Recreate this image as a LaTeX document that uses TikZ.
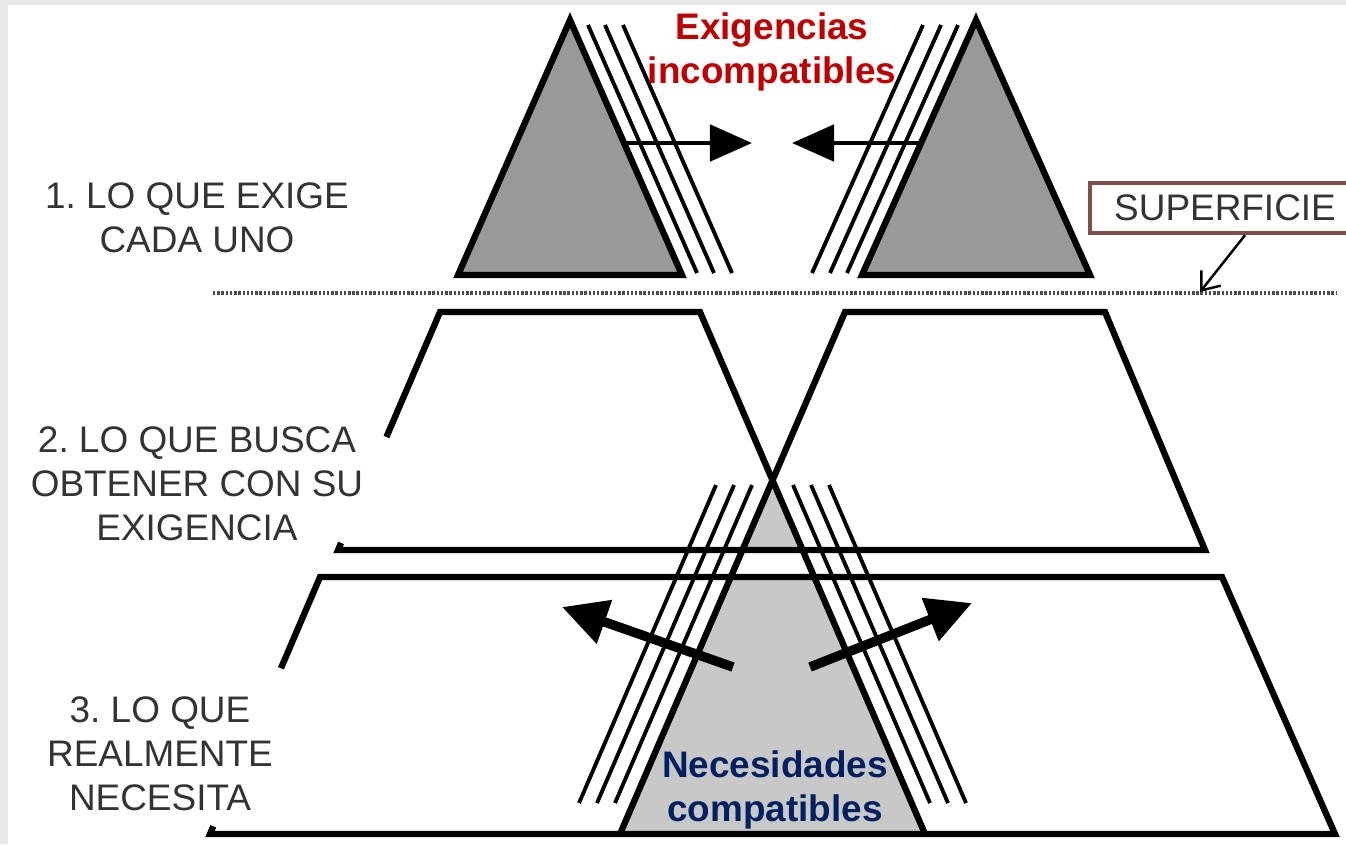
\documentclass[tikz,border=0pt]{standalone}
\usepackage{fontspec}
\setmainfont{Liberation Sans}
\usetikzlibrary{arrows.meta,calc}
\definecolor{exigred}{HTML}{C00000}
\definecolor{necblue}{HTML}{002060}
\definecolor{supbrown}{HTML}{7F4F46}
\definecolor{labelgray}{HTML}{333333}
\definecolor{peakgray}{HTML}{999999}
\definecolor{basegray}{HTML}{C8C8C8}
\tikzset{
  edge/.style={line width=1.8pt},
  hatch/.style={line width=1.1pt},
  push/.style={line width=1.4pt,-{Triangle[length=0.42cm,width=0.36cm]}},
  pull/.style={line width=2.7pt,-{Triangle[length=0.45cm,width=0.44cm]}},
  surface/.style={line width=0.9pt,black!70,dash pattern=on 0.7pt off 0.5pt},
  level/.style={text=labelgray,align=center,font=\frenchspacing\fontsize{10.5}{12.5}\selectfont},
  tag/.style={align=center,font=\bfseries\fontsize{10.5}{12.5}\selectfont},
  supbox/.style={draw=supbrown,line width=1.2pt,text=labelgray,minimum width=2.7cm,
    minimum height=0.5cm,font=\fontsize{10.5}{12.5}\selectfont},
}
\begin{document}
\begin{tikzpicture}[x=0.01cm,y=-0.01cm]
  \useasboundingbox (0,0) rectangle (1346,844);
  \clip (0,0) rectangle (1346,844);

  % Draw the frame
  \fill[gray!18] (0,0) rectangle (1346,844);
  \fill[white] (8,5) rectangle (1346,844);

  % Draw the two peaks on top
  \filldraw[edge,fill=peakgray] (570,20) -- (682,275) -- (458,275) -- cycle;
  \filldraw[edge,fill=peakgray] (976,20) -- (1090,275) -- (862,275) -- cycle;
  \foreach \d in {16,33,51} {
    \draw[hatch] (572+\d,25) -- (681+\d,273);
    \draw[hatch] (974-\d,25) -- (863-\d,273);
  }

  % Fill the common peak below
  \fill[basegray] (772.5,479.8) -- (925,834) -- (620,834) -- cycle;
  \fill[white] (600,553) rectangle (950,574);

  % Draw the middle layer
  \draw[edge] ($(440,312)!0.525!(338,550)$) -- (440,312) -- (700,312) -- (925,834);
  \draw[edge] ($(440,312)!0.97!(338,550)$) -- (338,550) -- (1205,550) -- (1105,312) -- (845,312) -- (620,834);

  % Draw the bottom layer
  \draw[edge] ($(320,577)!0.355!(210,834)$) -- (320,577) -- (1222,577) -- (1335,834) -- (210,834) -- ($(210,834)!0.03!(320,577)$);
  \foreach \d in {18,36,54} {
    \draw[hatch] (770-\d,485) -- (633-\d,803);
    \draw[hatch] (775+\d,485) -- (912+\d,803);
  }

  % Draw the arrows
  \draw[push] (624,143) -- (752,143);
  \draw[push] (921,143) -- (792,143);
  \draw[pull] (733,667) -- (562,607);
  \draw[pull] (810,667) -- (972,603);

  % Draw the surface line and its label
  \draw[surface] (213,293) -- (1336,293);
  \coordinate (surf) at (1200,292);
  \node[supbox] (sup) at (1225,208) {SUPERFICIE};
  \draw[line width=0.7pt,-{Straight Barb[length=4.5pt,width=7pt]}] ([xshift=0.2cm]sup.south) -- (surf);

  % Write the labels
  \node[level] (exige) at (197,218) {1. LO QUE EXIGE\\CADA UNO};
  \node[level] (busca) at (197,484) {2. LO QUE BUSCA\\OBTENER CON SU\\EXIGENCIA};
  \node[level] (necesita) at (160,754) {3. LO QUE\\REALMENTE\\NECESITA};
  \node[tag,text=exigred] (incomp) at (772,52) {Exigencias\\incompatibles};
  \node[tag,text=necblue] (comp) at (775,790) {Necesidades\\compatibles};
\end{tikzpicture}
\end{document}
